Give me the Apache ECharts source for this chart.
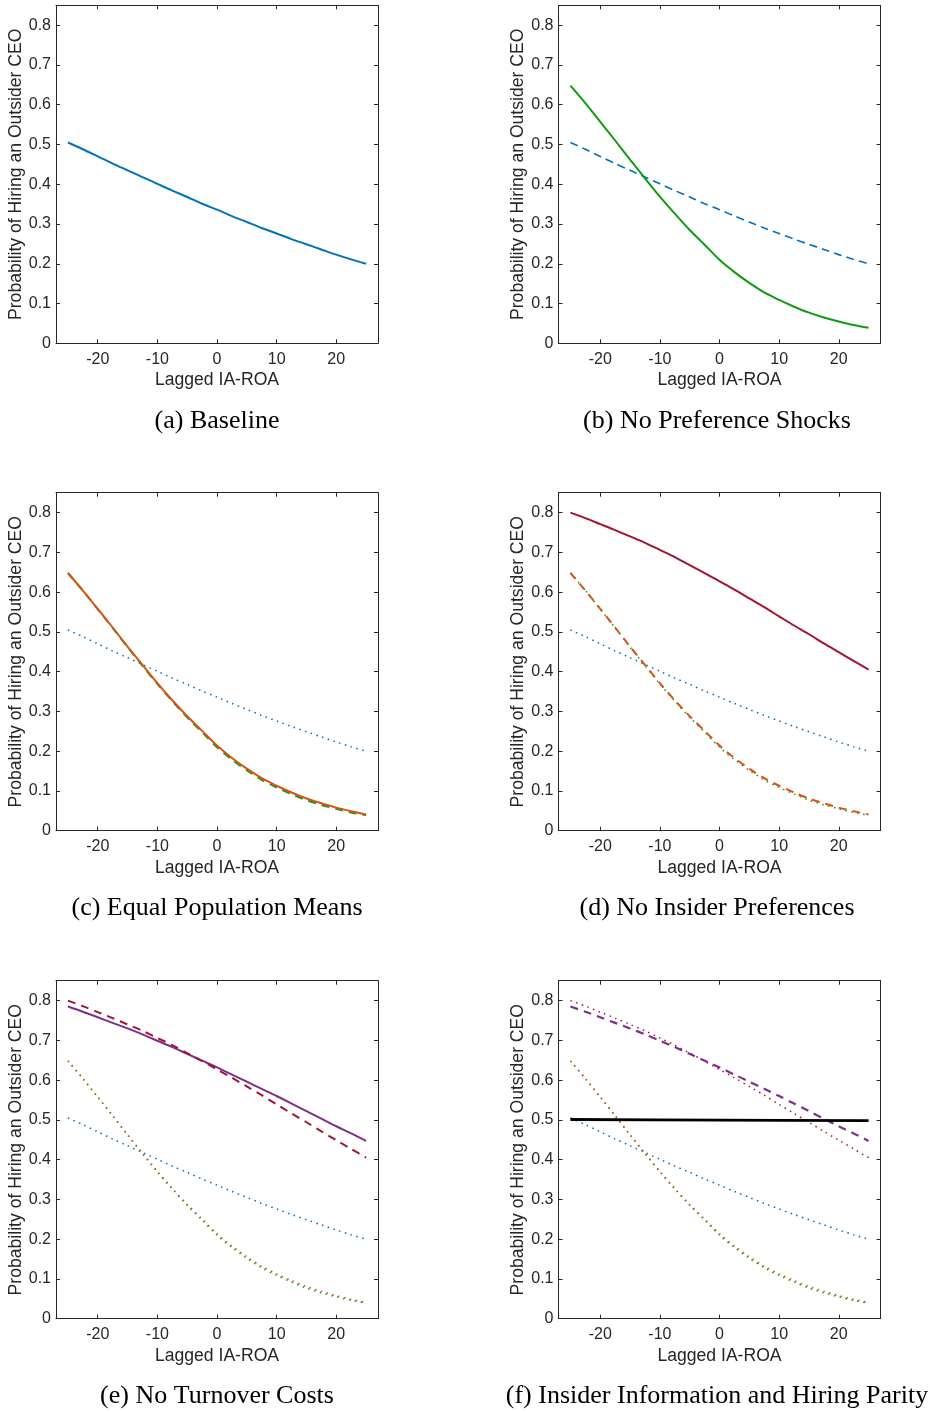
<!DOCTYPE html>
<html>
<head>
<meta charset="utf-8">
<script src="https://cdn.jsdelivr.net/npm/echarts@6/dist/echarts.min.js"></script>
<style>html,body{margin:0;padding:0;background:#fff;}#chart{width:930px;height:1412px;}</style>
</head>
<body>
<div id="chart"></div>
<script>
// ---- data ----
const xVals = [-25,-22.5,-20,-17.5,-15,-12.5,-10,-7.5,-5,-2.5,0,2.5,5,7.5,10,12.5,15,17.5,20,22.5,25];
const baseline      = [0.505,0.488,0.470,0.452,0.435,0.418,0.401,0.384,0.368,0.351,0.336,0.320,0.305,0.290,0.276,0.262,0.249,0.236,0.223,0.211,0.200];
const noPrefShocks  = [0.648,0.604,0.557,0.510,0.462,0.415,0.369,0.326,0.285,0.248,0.210,0.179,0.152,0.128,0.109,0.092,0.077,0.065,0.055,0.046,0.039];
const equalMeans    = [0.648,0.604,0.558,0.511,0.463,0.417,0.371,0.328,0.288,0.251,0.214,0.183,0.156,0.132,0.113,0.096,0.081,0.069,0.058,0.049,0.041];
const noInsiderPref = [0.800,0.786,0.771,0.756,0.740,0.724,0.706,0.688,0.668,0.648,0.627,0.606,0.584,0.562,0.539,0.516,0.494,0.471,0.449,0.427,0.405];
const noTurnover    = [0.785,0.772,0.758,0.744,0.730,0.715,0.699,0.683,0.666,0.649,0.632,0.614,0.596,0.578,0.560,0.541,0.522,0.503,0.484,0.466,0.447];
const parityX       = [-25,0,25];
const parity        = [0.501,0.4995,0.498];
const xTicks = [-20,-10,0,10,20];
const yTicks = [0,0.1,0.2,0.3,0.4,0.5,0.6,0.7,0.8];
const captions = ['(a) Baseline','(b) No Preference Shocks','(c) Equal Population Means','(d) No Insider Preferences','(e) No Turnover Costs','(f) Insider Information and Hiring Parity'];
const xTitle = 'Lagged IA-ROA';
const yTitle = 'Probability of Hiring an Outsider CEO';

// ---- styles ----
const C = {blue:'#0072BD', orange:'#D95319', green:'#129a12', red:'#A2142F', purple:'#7E2F8E', black:'#000000'};
const AX = '#262626';
const SANS = 'Liberation Sans, Arial, Helvetica, sans-serif';
const SERIF = 'Liberation Serif, Times New Roman, serif';
const DOT = [1.5,4.5], DASH = [8,6];

const colLeft = [56, 558.5];
const rowTop = [5.3, 492.7, 980.7];
const W = 322, H = 338;
const capX = [212, 712];
const capY = [403, 890, 1378];

function pairs(xs, ys){ return xs.map((x,i)=>[x, ys[i]]); }

// panel series specs: [values, xs, color, dash, width]
const panels = [
  [[baseline, xVals, C.blue, 'solid', 2]],
  [[baseline, xVals, C.blue, [8,5], 1.6],[noPrefShocks, xVals, C.green, 'solid', 2]],
  [[baseline, xVals, C.blue, DOT, 1.5],[noPrefShocks, xVals, C.green, DASH, 2],[equalMeans, xVals, C.orange, 'solid', 2]],
  [[baseline, xVals, C.blue, DOT, 1.5],[noPrefShocks, xVals, C.green, DOT, 1.5],[equalMeans, xVals, C.orange, DASH, 2],[noInsiderPref, xVals, C.red, 'solid', 2]],
  [[baseline, xVals, C.blue, DOT, 1.5],[noPrefShocks, xVals, C.green, DOT, 1.5],[equalMeans, xVals, C.orange, DOT, 1.5],[noTurnover, xVals, C.purple, 'solid', 2],[noInsiderPref, xVals, C.red, DASH, 2]],
  [[baseline, xVals, C.blue, DOT, 1.5],[noPrefShocks, xVals, C.green, DOT, 1.5],[equalMeans, xVals, C.orange, DOT, 1.5],[noInsiderPref, xVals, C.red, DOT, 1.5],[noTurnover, xVals, C.purple, DASH, 2.2],[parity, parityX, C.black, 'solid', 2.8]]
];

const grid = [], xAxis = [], yAxis = [], series = [], title = [];
for (let i = 0; i < 6; i++) {
  const col = i % 2, row = Math.floor(i / 2);
  grid.push({left: colLeft[col], top: rowTop[row], width: W, height: H, containLabel: false});
  const lineCommon = {show: true, onZero: false, lineStyle: {color: AX, width: 1}};
  xAxis.push({
    type: 'value', gridIndex: i, min: -27, max: 27, position: 'bottom',
    axisLine: lineCommon,
    axisTick: {show: true, inside: true, length: 4, customValues: xTicks, lineStyle: {color: AX}},
    axisLabel: {show: true, customValues: xTicks, fontSize: 16, color: AX, fontFamily: SANS, margin: 8},
    splitLine: {show: false},
    name: xTitle, nameLocation: 'middle', nameGap: 28,
    nameTextStyle: {fontSize: 17.6, color: AX, fontFamily: SANS}
  });
  xAxis.push({
    type: 'value', gridIndex: i, min: -27, max: 27, position: 'top',
    axisLine: lineCommon,
    axisTick: {show: true, inside: true, length: 4, customValues: xTicks, lineStyle: {color: AX}},
    axisLabel: {show: false}, splitLine: {show: false}
  });
  yAxis.push({
    type: 'value', gridIndex: i, min: 0, max: 0.85, position: 'left',
    axisLine: lineCommon,
    axisTick: {show: true, inside: true, length: 4, customValues: yTicks, lineStyle: {color: AX}},
    axisLabel: {show: true, customValues: yTicks, fontSize: 16, color: AX, fontFamily: SANS, margin: 5,
      formatter: v => (Math.abs(v) < 1e-9 ? '0' : v.toFixed(1))},
    splitLine: {show: false},
    name: yTitle, nameLocation: 'middle', nameGap: 28,
    nameTextStyle: {fontSize: 17.6, color: AX, fontFamily: SANS}
  });
  yAxis.push({
    type: 'value', gridIndex: i, min: 0, max: 0.85, position: 'right',
    axisLine: lineCommon,
    axisTick: {show: true, inside: true, length: 4, customValues: yTicks, lineStyle: {color: AX}},
    axisLabel: {show: false}, splitLine: {show: false}
  });
  panels[i].forEach(s => {
    series.push({
      type: 'line', xAxisIndex: 2 * i, yAxisIndex: 2 * i,
      data: pairs(s[1], s[0]), showSymbol: false, symbol: 'none', smooth: 0.3,
      animation: false, silent: true,
      lineStyle: {color: s[2], type: s[3], width: s[4], cap: 'butt'}
    });
  });
  title.push({
    text: captions[i], left: capX[col], top: capY[row], textAlign: 'center',
    textStyle: {fontFamily: SERIF, fontSize: 26, fontWeight: 'normal', color: '#000'}
  });
}

const chart = echarts.init(document.getElementById('chart'), null, {renderer: 'canvas'});
chart.setOption({backgroundColor: '#fff', animation: false, title, grid, xAxis, yAxis, series});
</script>
</body>
</html>
